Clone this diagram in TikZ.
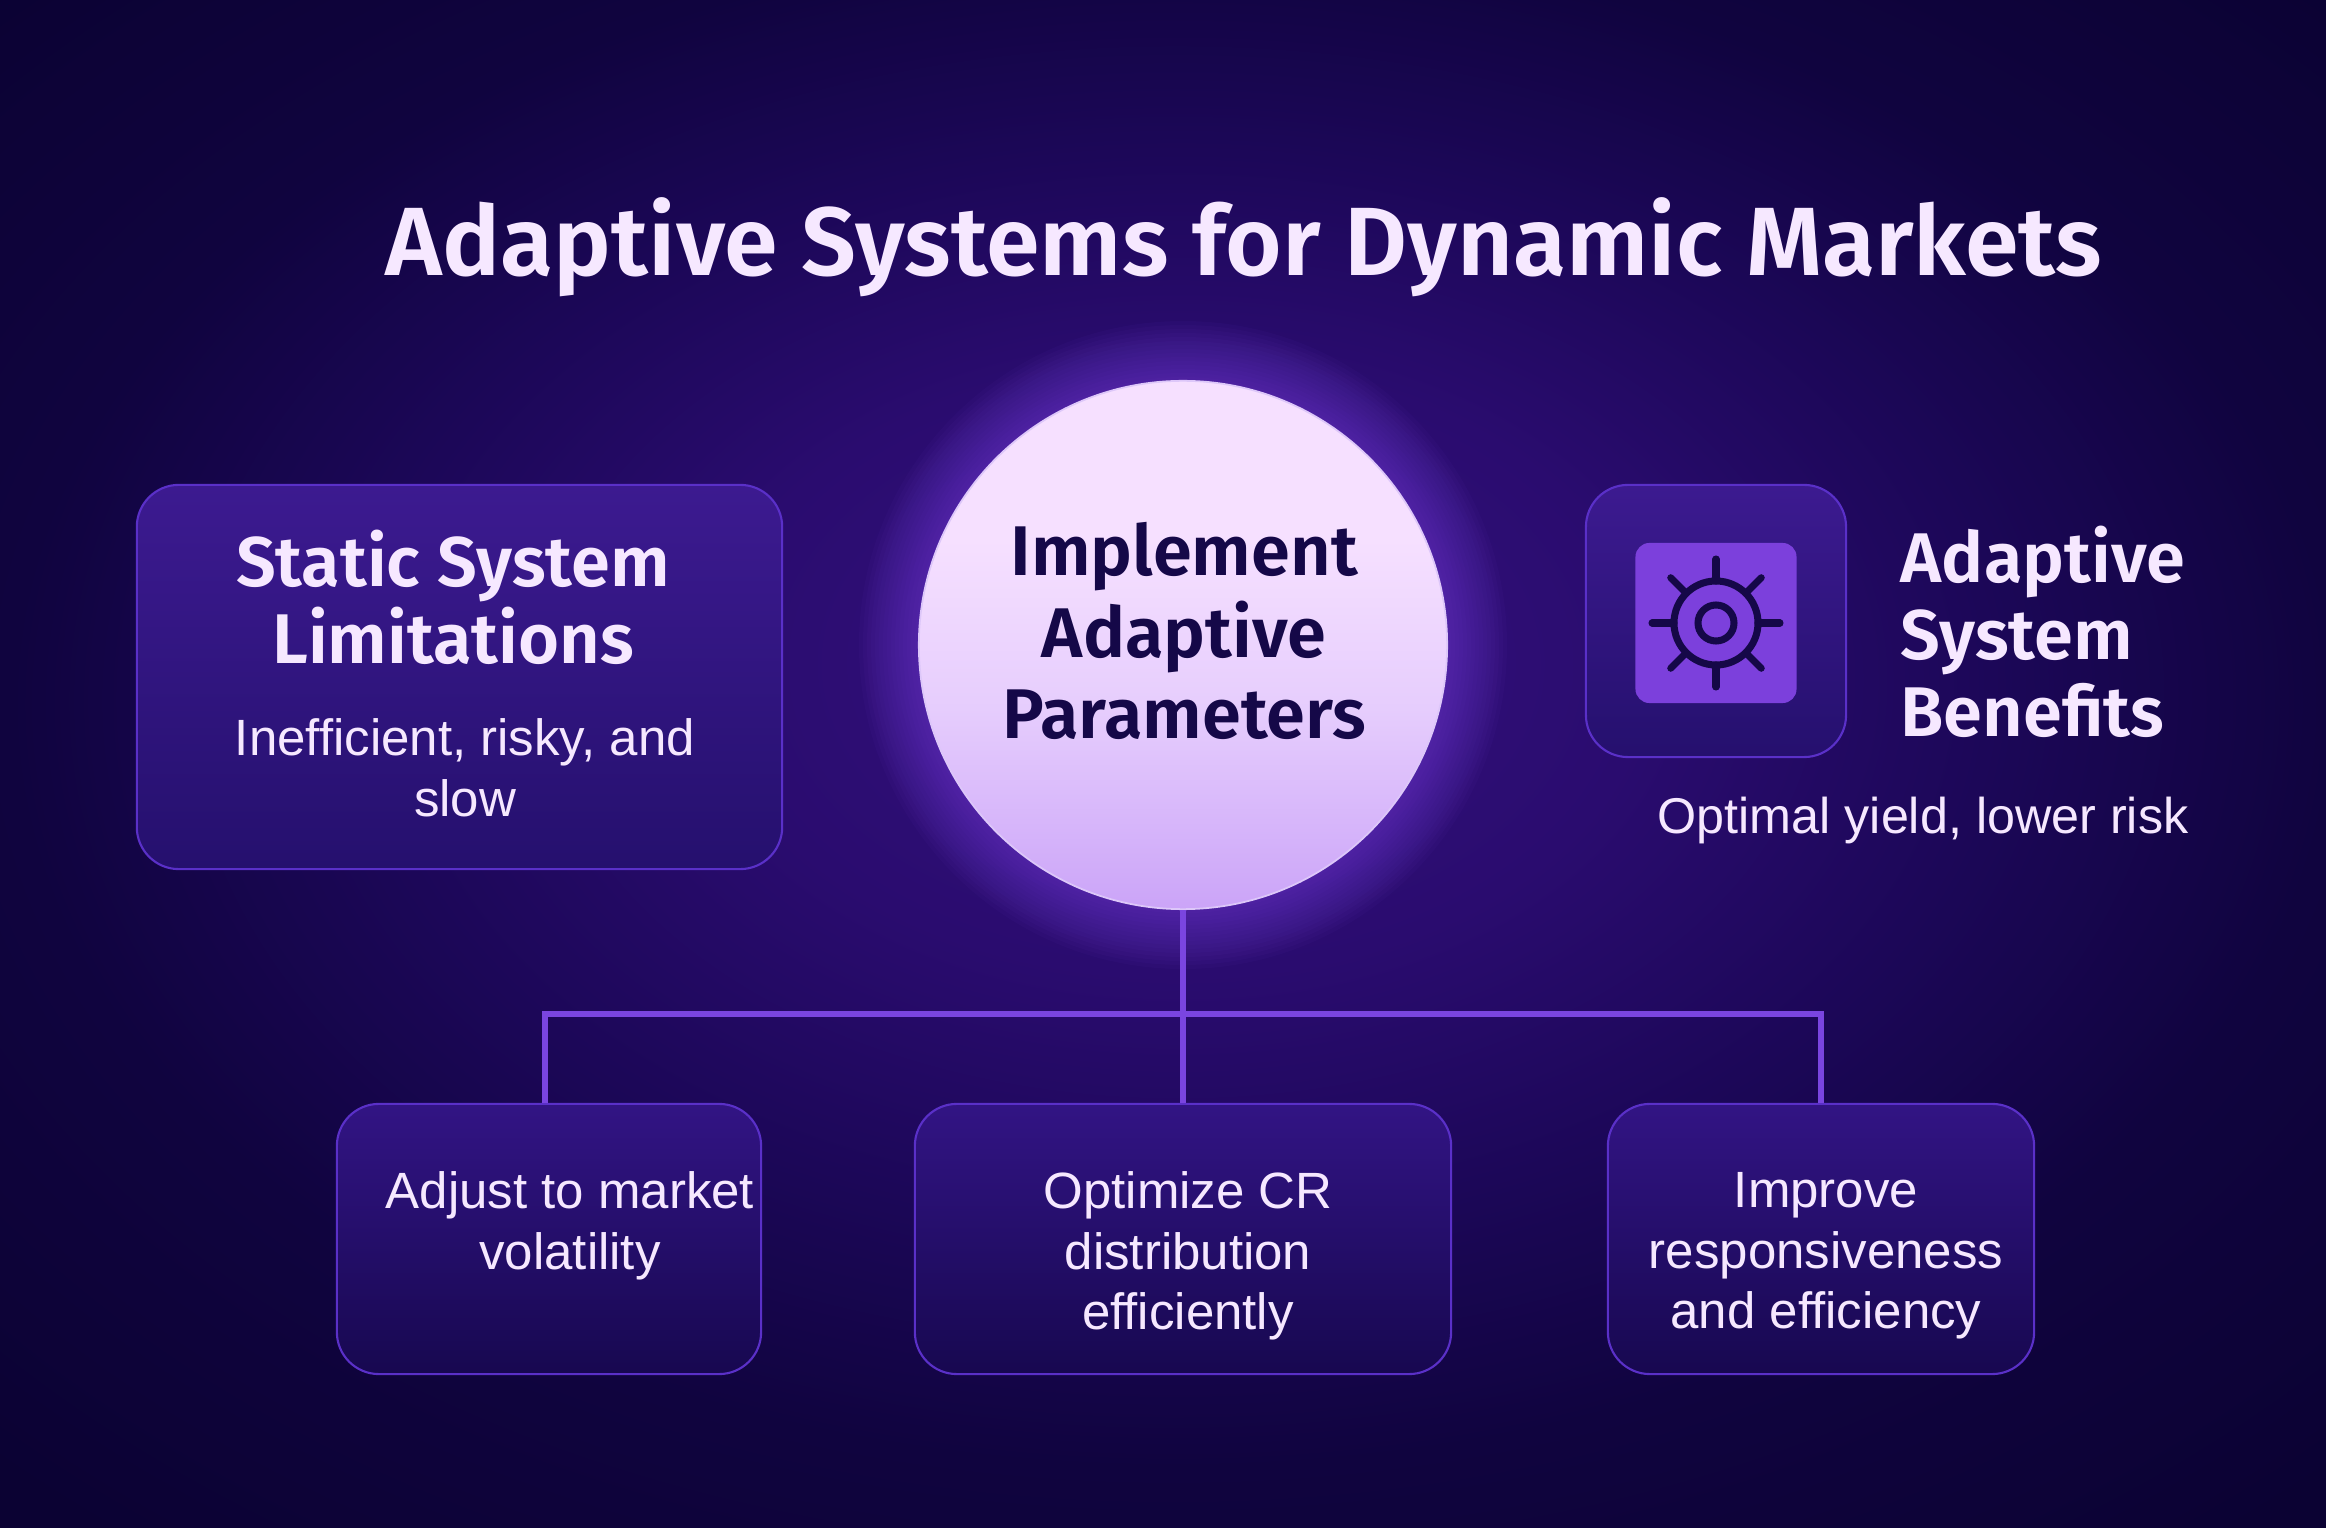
\documentclass[tikz,border=0pt]{standalone}
\usepackage{fontspec}
\setmainfont{Fira Sans SemiBold}
\newfontfamily\lightfont{Liberation Sans}
\definecolor{bgzero}{HTML}{35107F}
\definecolor{bgone}{HTML}{2A0C6F}
\definecolor{bgtwo}{HTML}{1C0758}
\definecolor{bgthree}{HTML}{10043F}
\definecolor{bgfour}{HTML}{0B0233}
\definecolor{boxtop}{HTML}{3C1A90}
\definecolor{boxbottom}{HTML}{25106E}
\definecolor{lowtop}{HTML}{321484}
\definecolor{lowbottom}{HTML}{170850}
\definecolor{boxline}{HTML}{5A30C8}
\definecolor{wire}{HTML}{7A45E0}
\definecolor{palelilac}{HTML}{F6E8FF}
\definecolor{ballmid}{HTML}{F6E0FF}
\definecolor{ballsoft}{HTML}{E6CDFD}
\definecolor{ballend}{HTML}{CBA4F8}
\definecolor{ink}{HTML}{150848}
\definecolor{iconfill}{HTML}{7C40DC}
\pgfdeclareradialshading{bgglow}{\pgfpoint{0.45bp}{3.9bp}}{%
  color(0bp)=(bgzero);
  color(10bp)=(bgone);
  color(17.5bp)=(bgtwo);
  color(25bp)=(bgthree);
  color(35bp)=(bgfour);
  color(50bp)=(bgfour)}
\pgfdeclareverticalshading{ballfade}{100bp}{%
  color(0bp)=(ballend);
  color(25bp)=(ballend);
  color(44bp)=(ballsoft);
  color(60bp)=(ballmid);
  color(100bp)=(ballmid)}
\tikzset{
  card/.style={draw=boxline, line width=.6pt, rounded corners=.42cm, top color=boxtop, bottom color=boxbottom, inner sep=0pt},
  lowcard/.style={card, top color=lowtop, bottom color=lowbottom, minimum height=2.7cm},
  wirepath/.style={draw=wire, line width=1.5pt},
  head/.style={text=palelilac, font=\fontsize{20}{21.9}\selectfont, align=center, inner sep=0pt},
  body/.style={text=palelilac, font=\lightfont\fontsize{14.5}{17.2}\selectfont, align=center, inner sep=0pt},
  gearline/.style={draw=ink, line width=2pt, line cap=round},
}
\begin{document}
\begin{tikzpicture}[x=.01cm, y=-.01cm]
\useasboundingbox (0,0) rectangle (2326,1528);
\shade[shading=bgglow] (0,0) rectangle (2326,1528);

% glow behind the circle
\foreach \r in {264,268,...,324}
  \fill[wire, opacity=.045] (1183,645) circle (\r);

\node[circle, minimum size=5.28cm, inner sep=0pt, draw=palelilac!80!wire, line width=.5pt,
  shading=ballfade] (implement) at (1183,645) {};
\node[text=ink, font=\fontsize{20}{23.1}\selectfont, align=center, inner sep=0pt] (implementtxt) at (1184,631) {Implement\\Adaptive\\Parameters};

% top row
\node[card, minimum width=6.45cm, minimum height=3.84cm] (static) at (459.5,677) {};
\node[head] (statictxt) at (453,597) {Static System\\Limitations};
\node[body] (staticsub) at (465,768) {Inefficient, risky, and\\slow};

\node[card, minimum width=2.6cm, minimum height=2.72cm] (iconbox) at (1716,621) {};
\node[draw=none, fill=iconfill, rounded corners=.14cm, minimum width=1.61cm, minimum height=1.6cm] (iconsq) at (1716,623) {};
\draw[gearline] (iconsq.center) circle (42);
\draw[gearline] (iconsq.center) circle (18);
\foreach \a in {0,45,...,315}
  \draw[gearline] ([shift={(\a:42)}]iconsq.center) -- ([shift={(\a:64)}]iconsq.center);
\node[head, align=left, anchor=west] (benefits) at (1900,632) {Adaptive\\System\\Benefits};
\node[body, font=\lightfont\fontsize{14.3}{17.2}\selectfont] (benefitsub) at (1923,821) {Optimal yield, lower risk};

% bottom row
\node[lowcard, minimum width=4.24cm] (adjust) at (549,1239) {};
\node[lowcard, minimum width=5.36cm] (optimize) at (1183,1239) {};
\node[lowcard, minimum width=4.26cm] (improve) at (1821,1239) {};
\node[body] (adjusttxt) at (570,1226) {Adjust to market\\volatility};
\node[body] (optimizetxt) at (1188,1256) {Optimize CR\\distribution\\efficiently};
\node[body] (improvetxt) at (1826,1256) {Improve\\responsiveness\\and efficiency};

\coordinate (bus) at (1183,1014);
\draw[wirepath] (implement.south) -- (optimize.north);
\draw[wirepath] ([xshift=-.04cm]adjust.north) |- (bus) -| (improve.north);

\node[text=palelilac, font=\fontsize{27.6}{30}\selectfont, inner sep=0pt] (title) at (1244,247) {Adaptive Systems for Dynamic Markets};
\end{tikzpicture}
\end{document}
